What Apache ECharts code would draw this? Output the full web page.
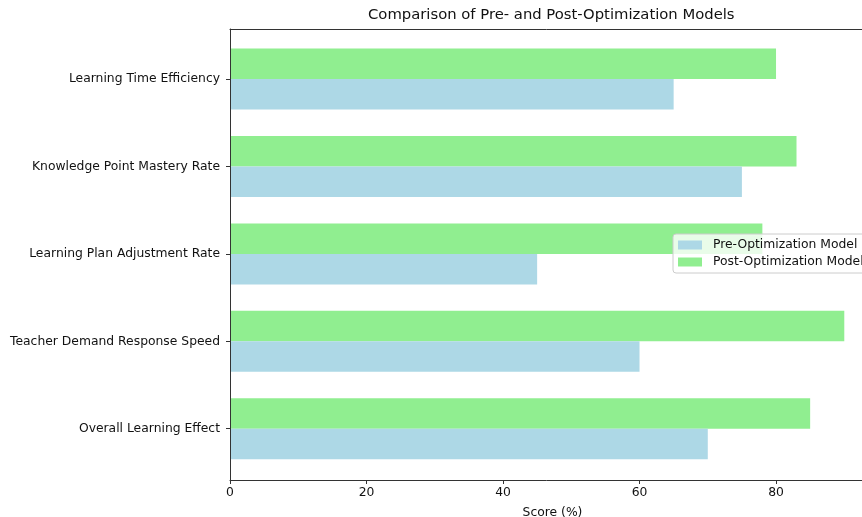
<!DOCTYPE html>
<html>
<head>
<meta charset="utf-8">
<script src="https://cdn.jsdelivr.net/npm/echarts@6/dist/echarts.min.js"></script>
<style>html,body{margin:0;padding:0;background:#fff}#c{width:862px;height:517px}</style>
</head>
<body>
<div id="c"></div>
<script>
const categories = ['Learning Time Efficiency', 'Knowledge Point Mastery Rate', 'Learning Plan Adjustment Rate', 'Teacher Demand Response Speed', 'Overall Learning Effect'];
const preValues = [65, 75, 45, 60, 70];
const postValues = [80, 83, 78, 90, 85];
const xTicks = [0, 20, 40, 60, 80];
const seriesNames = ['Pre-Optimization Model', 'Post-Optimization Model'];

const FONT = 'DejaVu Sans';
const FS = 12.35;
const chart = echarts.init(document.getElementById('c'), null, {renderer: 'canvas'});
const lineStyle = {color: '#333', width: 1};
chart.setOption({
  animation: false,
  backgroundColor: '#fff',
  textStyle: {fontFamily: FONT},
  title: {
    text: 'Comparison of Pre- and Post-Optimization Models',
    left: 368, top: 8, padding: 0,
    textStyle: {fontFamily: FONT, fontSize: 14.8, fontWeight: 'normal', color: '#111'}
  },
  legend: {
    orient: 'vertical',
    left: 673, top: 234,
    data: seriesNames,
    itemWidth: 24, itemHeight: 9, itemGap: 5,
    padding: [5, 6, 5, 5],
    borderColor: '#ccc', borderWidth: 1, borderRadius: 3,
    backgroundColor: 'rgba(255,255,255,0.8)',
    z: 10,
    textStyle: {fontFamily: FONT, fontSize: FS, color: '#111', padding: [0, 0, 0, 6]},
    icon: 'rect'
  },
  grid: [
    {left: 230, right: -13, top: 29, bottom: 37, outerBoundsMode: 'none', containLabel: false},
    {left: 230, right: -13, top: 35.4, bottom: 44.6, outerBoundsMode: 'none', containLabel: false}
  ],
  xAxis: [
    {
      type: 'value', gridIndex: 0, min: 0, max: 94.5, interval: 20, position: 'bottom',
      name: 'Score (%)', nameLocation: 'middle', nameGap: 27,
      nameTextStyle: {fontFamily: FONT, fontSize: FS, color: '#111'},
      axisLine: {show: true, lineStyle: lineStyle},
      axisTick: {show: true, length: 4, lineStyle: lineStyle, customValues: xTicks},
      splitLine: {show: false},
      axisLabel: {fontFamily: FONT, fontSize: FS, color: '#111', margin: 7, customValues: xTicks},
      z: 5
    },
    {
      type: 'value', gridIndex: 0, min: 0, max: 94.5, position: 'top',
      axisLine: {show: true, lineStyle: lineStyle},
      axisTick: {show: false}, axisLabel: {show: false}, splitLine: {show: false}, z: 5
    },
    {
      type: 'value', gridIndex: 1, min: 0, max: 94.5, show: false
    }
  ],
  yAxis: [
    {
      type: 'value', gridIndex: 0, min: 0, max: 1, position: 'left',
      axisLine: {show: true, lineStyle: lineStyle},
      axisTick: {show: false}, axisLabel: {show: false}, splitLine: {show: false}, z: 5
    },
    {
      type: 'category', gridIndex: 1, data: categories, inverse: true,
      axisLine: {show: false},
      axisTick: {show: true, alignWithLabel: true, length: 4, lineStyle: lineStyle},
      axisLabel: {fontFamily: FONT, fontSize: FS, color: '#111', margin: 10},
      splitLine: {show: false}
    }
  ],
  series: [
    {
      name: seriesNames[1], type: 'bar', xAxisIndex: 2, yAxisIndex: 1,
      data: postValues, barWidth: 30.5, barGap: '0%',
      itemStyle: {color: '#90EE90'}
    },
    {
      name: seriesNames[0], type: 'bar', xAxisIndex: 2, yAxisIndex: 1,
      data: preValues, barWidth: 30.5, barGap: '0%',
      itemStyle: {color: '#ADD8E6'}
    }
  ]
});
</script>
</body>
</html>
